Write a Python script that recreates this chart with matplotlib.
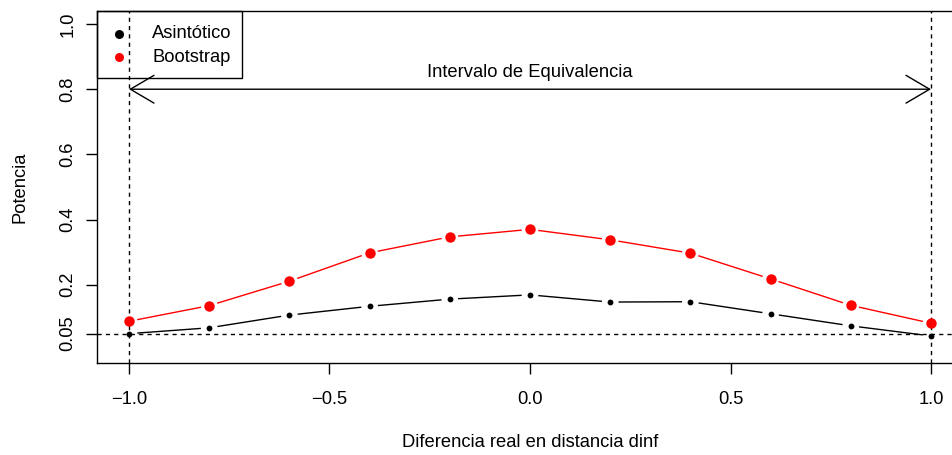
import numpy as np
import matplotlib.pyplot as plt
from matplotlib.patches import Rectangle
from matplotlib.lines import Line2D

plt.rcParams['font.family'] = ['Liberation Sans', 'DejaVu Sans']

# Datos: potencia frente a la diferencia real
diferencia = [-1.0, -0.8, -0.6, -0.4, -0.2, 0.0, 0.2, 0.4, 0.6, 0.8, 1.0]
asintotico = [0.050, 0.068, 0.107, 0.134, 0.156, 0.169, 0.147, 0.148, 0.111, 0.074, 0.043]
bootstrap = [0.088, 0.136, 0.211, 0.298, 0.347, 0.370, 0.338, 0.297, 0.218, 0.137, 0.082]

y_ticks = [0.05, 0.2, 0.4, 0.6, 0.8, 1.0]
y_ticklabels = ['0.05', '0.2', '0.4', '0.6', '0.8', '1.0']
x_ticks = [-1.0, -0.5, 0.0, 0.5, 1.0]
x_ticklabels = ['\u22121.0', '\u22120.5', '0.0', '0.5', '1.0']

series = ['Asintótico', 'Bootstrap']
colores = ['black', 'red']

fs = 13.2
W, H = 952, 455
fig = plt.figure(figsize=(W / 100, H / 100), dpi=100)
# el panel se sale por la derecha, como en la imagen original (recortada)
left, right, top, bottom = 97, 963, 11, 363
ax = fig.add_axes([left / W, (H - bottom) / H, (right - left) / W, (bottom - top) / H])
ax.set_xlim(-1.0798, 1.0798)
ax.set_ylim(-0.04, 1.04)

for s in ax.spines.values():
    s.set_linewidth(1.0)
ax.spines['right'].set_visible(False)


def px(x, y):
    # pixeles (origen arriba a la izquierda) -> fraccion de la figura
    return x / W, 1 - y / H


def linea_b(x, y, color, gap=9):
    # imita type="b" de R: segmentos con huecos alrededor de los puntos
    pts = ax.transData.transform(np.column_stack([x, y]))
    inv = ax.transData.inverted()
    for p0, p1 in zip(pts[:-1], pts[1:]):
        d = p1 - p0
        n = np.hypot(*d)
        if n <= 2 * gap:
            continue
        u = d / n
        a = inv.transform(p0 + u * gap)
        b = inv.transform(p1 - u * gap)
        ax.plot([a[0], b[0]], [a[1], b[1]], color=color, lw=1.0, zorder=3)


# leyenda dibujada a mano, sin fondo
x0, y0 = px(97, 78)
x1, y1 = px(242, 11)
fig.add_artist(Rectangle((x0, y0), x1 - x0, y1 - y0, transform=fig.transFigure,
                         fill=False, ec='black', lw=1.0))
for i, (nombre, c) in enumerate(zip(series, colores)):
    yy = 34 + 23 * i
    fig.add_artist(Line2D([px(119, yy)[0]], [px(119, yy)[1]], marker='o', color=c,
                          ms=6.5, mec='none', ls='none', transform=fig.transFigure))
    fig.text(*px(152, yy), nombre, ha='left', va='center', fontsize=fs)

# lineas de referencia
ax.axhline(0.05, color='black', lw=1.0, ls=(0, (3, 3)), zorder=2)
ax.axvline(-1, color='black', lw=1.0, ls=(0, (3, 3)), zorder=2)
ax.axvline(1, color='black', lw=1.0, ls=(0, (3, 3)), zorder=2)

linea_b(diferencia, asintotico, colores[0])
linea_b(diferencia, bootstrap, colores[1])
ax.plot(diferencia, asintotico, 'o', color=colores[0], ms=4.2, mec='none', zorder=4)
ax.plot(diferencia, bootstrap, 'o', color=colores[1], ms=7.5, mec='none', zorder=4)

# intervalo de equivalencia
ax.annotate('', xy=(1, 0.8), xytext=(-1, 0.8),
            arrowprops=dict(arrowstyle='<->,head_length=1.7,head_width=1.0',
                            color='black', lw=1.0, shrinkA=0, shrinkB=0,
                            mutation_scale=10))
ax.text(0, 0.85, 'Intervalo de Equivalencia', ha='center', va='center', fontsize=fs)

ax.set_xticks(x_ticks)
ax.set_xticklabels(x_ticklabels)
ax.set_yticks(y_ticks)
ax.set_yticklabels(y_ticklabels, rotation=90, va='center')
ax.tick_params(axis='both', direction='out', length=8, width=1.0, labelsize=fs)
ax.tick_params(axis='x', pad=12.5)
ax.tick_params(axis='y', pad=7)

ax.set_xlabel('Diferencia real en distancia dinf', fontsize=fs, labelpad=18.5)
ax.set_ylabel('Potencia', fontsize=fs, labelpad=22)

fig.savefig('out.png', dpi=100)
